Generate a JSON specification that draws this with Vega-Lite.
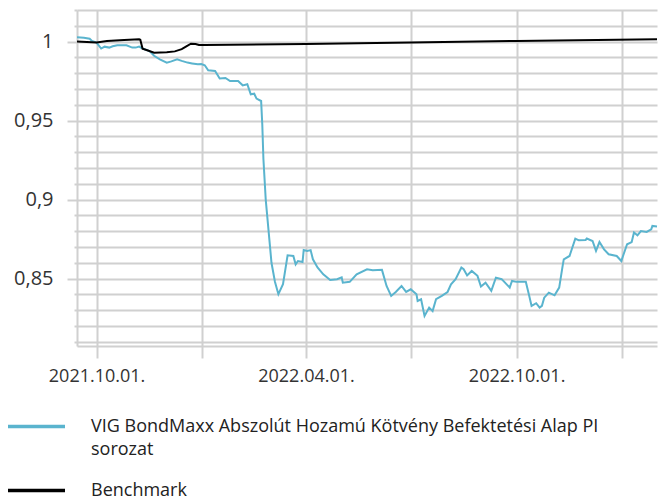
{
  "$schema": "https://vega.github.io/schema/vega-lite/v6.json",
  "width": 580,
  "height": 336,
  "autosize": {"type": "none"},
  "padding": {"left": 77, "top": 10, "right": 2, "bottom": 154},
  "config": {
    "view": {"stroke": null},
    "axis": {"labelFont": "Open Sans", "labelFontSize": 18, "labelColor": "#333333", "gridColor": "#d0d0d0", "gridWidth": 2, "domainColor": "#d0d0d0", "domainWidth": 2, "tickColor": "#d0d0d0", "tickWidth": 2, "title": null},
    "legend": {"labelFont": "Open Sans", "labelFontSize": 18, "labelColor": "#222222"}
  },
  "data": {
    "values": [
      {"date": "2021-09-14", "series": "VIG", "value": 1.0027},
      {"date": "2021-09-20", "series": "VIG", "value": 1.0024},
      {"date": "2021-09-25", "series": "VIG", "value": 1.0018},
      {"date": "2021-09-27", "series": "VIG", "value": 1.0004},
      {"date": "2021-10-01", "series": "VIG", "value": 0.9994},
      {"date": "2021-10-05", "series": "VIG", "value": 0.9956},
      {"date": "2021-10-08", "series": "VIG", "value": 0.9968},
      {"date": "2021-10-12", "series": "VIG", "value": 0.9962},
      {"date": "2021-10-15", "series": "VIG", "value": 0.997},
      {"date": "2021-10-19", "series": "VIG", "value": 0.9977},
      {"date": "2021-10-27", "series": "VIG", "value": 0.9977},
      {"date": "2021-11-01", "series": "VIG", "value": 0.9962},
      {"date": "2021-11-04", "series": "VIG", "value": 0.9962},
      {"date": "2021-11-07", "series": "VIG", "value": 0.9968},
      {"date": "2021-11-10", "series": "VIG", "value": 0.9956},
      {"date": "2021-11-16", "series": "VIG", "value": 0.994},
      {"date": "2021-11-20", "series": "VIG", "value": 0.991},
      {"date": "2021-11-25", "series": "VIG", "value": 0.9888},
      {"date": "2021-12-01", "series": "VIG", "value": 0.9867},
      {"date": "2021-12-05", "series": "VIG", "value": 0.9875},
      {"date": "2021-12-10", "series": "VIG", "value": 0.9888},
      {"date": "2021-12-14", "series": "VIG", "value": 0.9878},
      {"date": "2021-12-19", "series": "VIG", "value": 0.9867},
      {"date": "2021-12-23", "series": "VIG", "value": 0.9862},
      {"date": "2021-12-28", "series": "VIG", "value": 0.9856},
      {"date": "2021-12-31", "series": "VIG", "value": 0.9858},
      {"date": "2022-01-03", "series": "VIG", "value": 0.985},
      {"date": "2022-01-06", "series": "VIG", "value": 0.9818},
      {"date": "2022-01-12", "series": "VIG", "value": 0.9814},
      {"date": "2022-01-16", "series": "VIG", "value": 0.9766},
      {"date": "2022-01-21", "series": "VIG", "value": 0.977},
      {"date": "2022-01-25", "series": "VIG", "value": 0.975},
      {"date": "2022-02-01", "series": "VIG", "value": 0.975},
      {"date": "2022-02-05", "series": "VIG", "value": 0.9723},
      {"date": "2022-02-09", "series": "VIG", "value": 0.973},
      {"date": "2022-02-12", "series": "VIG", "value": 0.9666},
      {"date": "2022-02-15", "series": "VIG", "value": 0.967},
      {"date": "2022-02-17", "series": "VIG", "value": 0.9639},
      {"date": "2022-02-21", "series": "VIG", "value": 0.9624},
      {"date": "2022-02-22", "series": "VIG", "value": 0.9477},
      {"date": "2022-02-23", "series": "VIG", "value": 0.9255},
      {"date": "2022-02-25", "series": "VIG", "value": 0.9},
      {"date": "2022-03-02", "series": "VIG", "value": 0.86},
      {"date": "2022-03-05", "series": "VIG", "value": 0.848},
      {"date": "2022-03-08", "series": "VIG", "value": 0.8401},
      {"date": "2022-03-12", "series": "VIG", "value": 0.8464},
      {"date": "2022-03-16", "series": "VIG", "value": 0.8647},
      {"date": "2022-03-21", "series": "VIG", "value": 0.8643},
      {"date": "2022-03-23", "series": "VIG", "value": 0.859},
      {"date": "2022-03-25", "series": "VIG", "value": 0.8611},
      {"date": "2022-03-29", "series": "VIG", "value": 0.8605},
      {"date": "2022-03-30", "series": "VIG", "value": 0.8681},
      {"date": "2022-04-02", "series": "VIG", "value": 0.8675},
      {"date": "2022-04-05", "series": "VIG", "value": 0.868},
      {"date": "2022-04-07", "series": "VIG", "value": 0.8622},
      {"date": "2022-04-11", "series": "VIG", "value": 0.857},
      {"date": "2022-04-16", "series": "VIG", "value": 0.8527},
      {"date": "2022-04-22", "series": "VIG", "value": 0.8491},
      {"date": "2022-04-28", "series": "VIG", "value": 0.8496},
      {"date": "2022-05-02", "series": "VIG", "value": 0.8508},
      {"date": "2022-05-03", "series": "VIG", "value": 0.8474},
      {"date": "2022-05-09", "series": "VIG", "value": 0.8479},
      {"date": "2022-05-15", "series": "VIG", "value": 0.8527},
      {"date": "2022-05-24", "series": "VIG", "value": 0.8559},
      {"date": "2022-05-29", "series": "VIG", "value": 0.8553},
      {"date": "2022-06-06", "series": "VIG", "value": 0.8555},
      {"date": "2022-06-10", "series": "VIG", "value": 0.8453},
      {"date": "2022-06-14", "series": "VIG", "value": 0.839},
      {"date": "2022-06-18", "series": "VIG", "value": 0.8415},
      {"date": "2022-06-23", "series": "VIG", "value": 0.8453},
      {"date": "2022-06-27", "series": "VIG", "value": 0.8415},
      {"date": "2022-07-01", "series": "VIG", "value": 0.8432},
      {"date": "2022-07-06", "series": "VIG", "value": 0.84},
      {"date": "2022-07-07", "series": "VIG", "value": 0.8358},
      {"date": "2022-07-10", "series": "VIG", "value": 0.8369},
      {"date": "2022-07-13", "series": "VIG", "value": 0.8263},
      {"date": "2022-07-17", "series": "VIG", "value": 0.8316},
      {"date": "2022-07-20", "series": "VIG", "value": 0.8294},
      {"date": "2022-07-23", "series": "VIG", "value": 0.8369},
      {"date": "2022-07-28", "series": "VIG", "value": 0.839},
      {"date": "2022-08-02", "series": "VIG", "value": 0.8415},
      {"date": "2022-08-05", "series": "VIG", "value": 0.8464},
      {"date": "2022-08-09", "series": "VIG", "value": 0.8496},
      {"date": "2022-08-14", "series": "VIG", "value": 0.857},
      {"date": "2022-08-16", "series": "VIG", "value": 0.8559},
      {"date": "2022-08-19", "series": "VIG", "value": 0.852},
      {"date": "2022-08-23", "series": "VIG", "value": 0.8548},
      {"date": "2022-08-28", "series": "VIG", "value": 0.8517},
      {"date": "2022-08-31", "series": "VIG", "value": 0.845},
      {"date": "2022-09-04", "series": "VIG", "value": 0.8474},
      {"date": "2022-09-09", "series": "VIG", "value": 0.8422},
      {"date": "2022-09-13", "series": "VIG", "value": 0.8506},
      {"date": "2022-09-18", "series": "VIG", "value": 0.8496},
      {"date": "2022-09-25", "series": "VIG", "value": 0.8443},
      {"date": "2022-09-27", "series": "VIG", "value": 0.8485},
      {"date": "2022-10-01", "series": "VIG", "value": 0.8479},
      {"date": "2022-10-09", "series": "VIG", "value": 0.8479},
      {"date": "2022-10-12", "series": "VIG", "value": 0.839},
      {"date": "2022-10-14", "series": "VIG", "value": 0.8327},
      {"date": "2022-10-18", "series": "VIG", "value": 0.8344},
      {"date": "2022-10-21", "series": "VIG", "value": 0.8316},
      {"date": "2022-10-23", "series": "VIG", "value": 0.8327},
      {"date": "2022-10-25", "series": "VIG", "value": 0.8379},
      {"date": "2022-10-29", "series": "VIG", "value": 0.8411},
      {"date": "2022-11-03", "series": "VIG", "value": 0.8394},
      {"date": "2022-11-07", "series": "VIG", "value": 0.8443},
      {"date": "2022-11-10", "series": "VIG", "value": 0.858},
      {"date": "2022-11-11", "series": "VIG", "value": 0.8622},
      {"date": "2022-11-16", "series": "VIG", "value": 0.8643},
      {"date": "2022-11-21", "series": "VIG", "value": 0.8753},
      {"date": "2022-11-24", "series": "VIG", "value": 0.8742},
      {"date": "2022-11-30", "series": "VIG", "value": 0.8744},
      {"date": "2022-12-01", "series": "VIG", "value": 0.8753},
      {"date": "2022-12-06", "series": "VIG", "value": 0.8738},
      {"date": "2022-12-09", "series": "VIG", "value": 0.8675},
      {"date": "2022-12-12", "series": "VIG", "value": 0.8731},
      {"date": "2022-12-16", "series": "VIG", "value": 0.8685},
      {"date": "2022-12-20", "series": "VIG", "value": 0.8654},
      {"date": "2022-12-27", "series": "VIG", "value": 0.8643},
      {"date": "2022-12-31", "series": "VIG", "value": 0.8611},
      {"date": "2023-01-02", "series": "VIG", "value": 0.8654},
      {"date": "2023-01-05", "series": "VIG", "value": 0.8717},
      {"date": "2023-01-09", "series": "VIG", "value": 0.8731},
      {"date": "2023-01-11", "series": "VIG", "value": 0.8791},
      {"date": "2023-01-14", "series": "VIG", "value": 0.8774},
      {"date": "2023-01-17", "series": "VIG", "value": 0.8801},
      {"date": "2023-01-22", "series": "VIG", "value": 0.8795},
      {"date": "2023-01-26", "series": "VIG", "value": 0.8812},
      {"date": "2023-01-27", "series": "VIG", "value": 0.8833},
      {"date": "2023-01-31", "series": "VIG", "value": 0.883},
      {"date": "2021-09-14", "series": "Benchmark", "value": 1.0},
      {"date": "2021-10-01", "series": "Benchmark", "value": 0.9995},
      {"date": "2021-10-10", "series": "Benchmark", "value": 1.0003},
      {"date": "2021-10-25", "series": "Benchmark", "value": 1.001},
      {"date": "2021-11-07", "series": "Benchmark", "value": 1.0015},
      {"date": "2021-11-08", "series": "Benchmark", "value": 1.0012},
      {"date": "2021-11-10", "series": "Benchmark", "value": 0.9955},
      {"date": "2021-11-14", "series": "Benchmark", "value": 0.9945},
      {"date": "2021-11-20", "series": "Benchmark", "value": 0.993},
      {"date": "2021-12-01", "series": "Benchmark", "value": 0.9932},
      {"date": "2021-12-08", "series": "Benchmark", "value": 0.9938},
      {"date": "2021-12-14", "series": "Benchmark", "value": 0.9952},
      {"date": "2021-12-18", "series": "Benchmark", "value": 0.997},
      {"date": "2021-12-22", "series": "Benchmark", "value": 0.9987},
      {"date": "2021-12-26", "series": "Benchmark", "value": 0.9985},
      {"date": "2021-12-29", "series": "Benchmark", "value": 0.9978},
      {"date": "2022-01-03", "series": "Benchmark", "value": 0.9978},
      {"date": "2022-04-01", "series": "Benchmark", "value": 0.9985},
      {"date": "2022-07-01", "series": "Benchmark", "value": 0.9995},
      {"date": "2022-10-01", "series": "Benchmark", "value": 1.0004},
      {"date": "2023-01-31", "series": "Benchmark", "value": 1.0015}
    ]
  },
  "mark": {"type": "line", "strokeWidth": 2, "interpolate": "linear"},
  "encoding": {
    "x": {
      "field": "date",
      "type": "temporal",
      "scale": {"type": "utc", "domain": [{"year": 2021, "month": 9, "date": 14, "utc": true}, {"year": 2023, "month": 1, "date": 31, "utc": true}], "nice": false},
      "axis": {
        "values": [
          {"year": 2021, "month": 10, "date": 1, "utc": true},
          {"year": 2022, "month": 1, "date": 1, "utc": true},
          {"year": 2022, "month": 4, "date": 1, "utc": true},
          {"year": 2022, "month": 7, "date": 1, "utc": true},
          {"year": 2022, "month": 10, "date": 1, "utc": true},
          {"year": 2023, "month": 1, "date": 1, "utc": true}
        ],
        "labelExpr": "(utcmonth(datum.value) == 3 || utcmonth(datum.value) == 9) ? utcFormat(datum.value, '%Y.%m.%d.') : ''",
        "tickSize": 12,
        "labelPadding": 9,
        "labelFlush": false,
        "labelOverlap": false
      }
    },
    "y": {
      "field": "value",
      "type": "quantitative",
      "scale": {"domain": [0.8073, 1.02], "nice": false, "zero": false},
      "axis": {
        "values": [0.81, 0.82, 0.83, 0.84, 0.85, 0.86, 0.87, 0.88, 0.89, 0.9, 0.91, 0.92, 0.93, 0.94, 0.95, 0.96, 0.97, 0.98, 0.99, 1, 1.01, 1.02],
        "labelExpr": "round(datum.value * 100) % 5 == 0 ? replace(format(datum.value, '.2~f'), '.', ',') : ''",
        "tickSize": {"condition": {"test": "round(datum.value * 100) % 5 == 0", "value": 10}, "value": 3},
        "labelFontSize": 20,
        "labelPadding": 14,
        "labelOverlap": false
      }
    },
    "color": {
      "field": "series",
      "type": "nominal",
      "scale": {"domain": ["VIG", "Benchmark"], "range": ["#5ab4ce", "#000000"]},
      "legend": {
        "orient": "none",
        "legendX": -71,
        "legendY": 386,
        "direction": "vertical",
        "title": null,
        "symbolType": "stroke",
        "symbolSize": 3249,
        "symbolStrokeWidth": 3.5,
        "labelOffset": 24,
        "labelLimit": 620,
        "rowPadding": 1,
        "labelExpr": "datum.label == 'Benchmark' ? 'Benchmark' : ['VIG BondMaxx Abszolút Hozamú Kötvény Befektetési Alap PI', 'sorozat']",
        "encode": {
          "labels": {"update": {"lineHeight": {"value": 23}}}
        }
      }
    }
  }
}
